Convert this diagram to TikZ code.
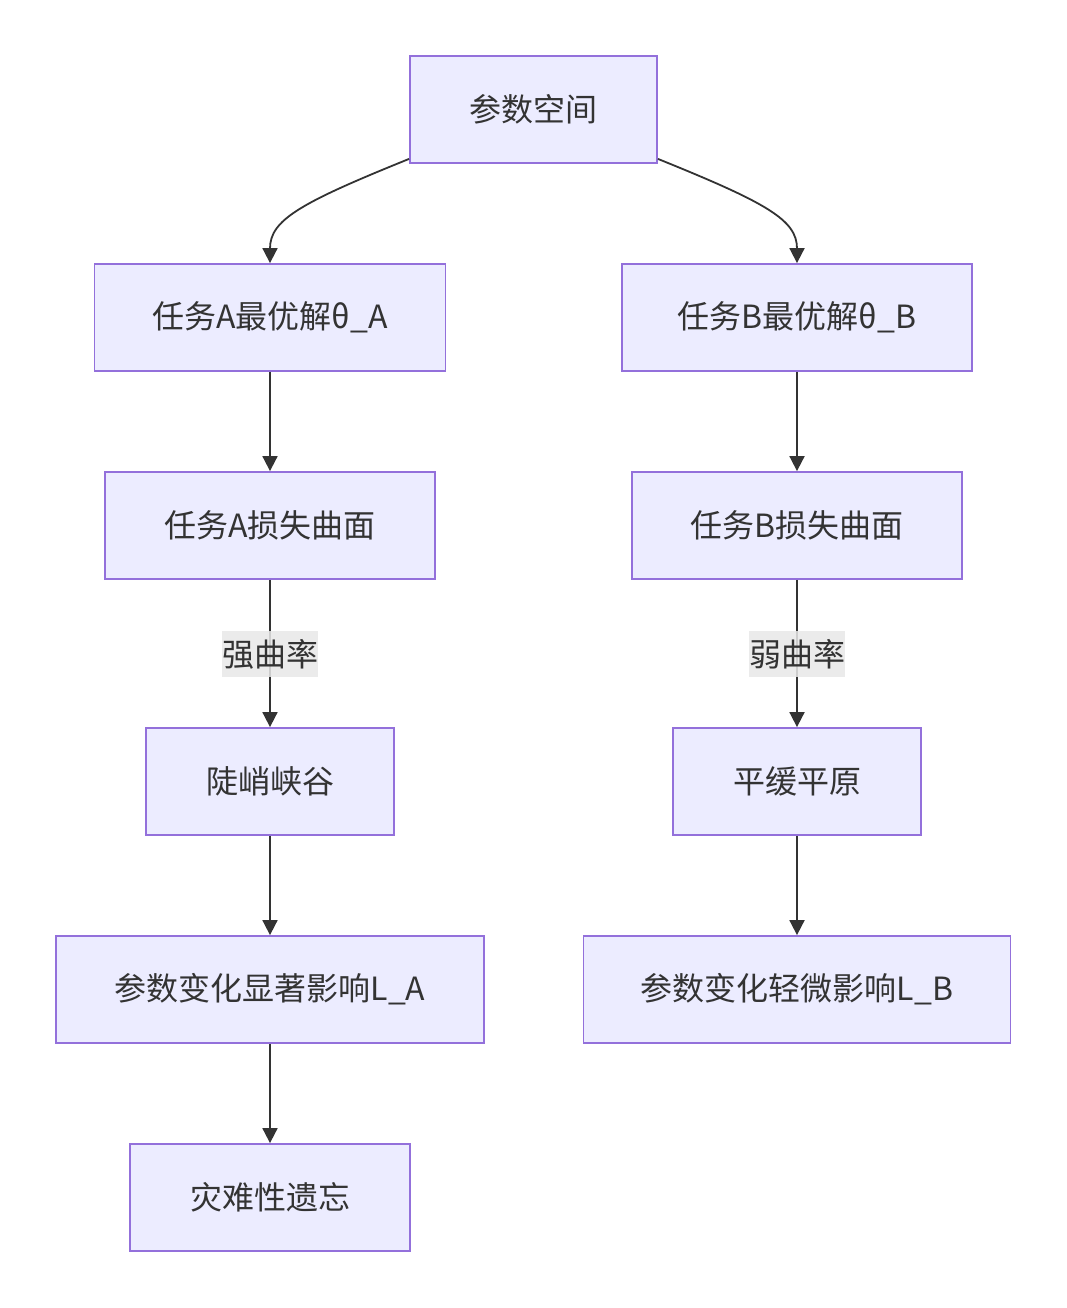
\documentclass[tikz,border=0pt]{standalone}
\usepackage{fontspec}
\setmainfont{Noto Sans CJK SC}
\usetikzlibrary{arrows.meta,positioning,calc}
\definecolor{nodefill}{HTML}{ECECFF}
\definecolor{nodeline}{HTML}{9370DB}
\definecolor{edgecol}{HTML}{333333}
\definecolor{lblfill}{HTML}{E8E8E8}
\begin{document}
\begin{tikzpicture}[x=1pt,y=-1pt,
  box/.style={draw=nodeline,fill=nodefill,line width=1.8pt,minimum height=107pt,inner sep=0pt,text=edgecol,font=\fontsize{32}{38}\selectfont},
  lbl/.style={fill=lblfill,fill opacity=0.85,text opacity=1,inner xsep=0pt,minimum width=96pt,minimum height=46pt,inner ysep=0pt,text=edgecol,font=\fontsize{32}{38}\selectfont},
  conn/.style={draw=edgecol,line width=1.8pt,-{Triangle[length=15pt,width=15pt]}}]
\useasboundingbox (0,0) rectangle (1066,1308);
\node[box,minimum width=247pt] (p) at (533.5,109.5) {参数空间};
\node[box,minimum width=351pt] (oa) at (270,317.5) {任务A最优解θ\_A};
\node[box,minimum width=350pt] (ob) at (797,317.5) {任务B最优解θ\_B};
\node[box,minimum width=330pt] (la) at (270,525.5) {任务A损失曲面};
\node[box,minimum width=330pt] (lb) at (797,525.5) {任务B损失曲面};
\node[box,minimum width=248pt] (va) at (270,781.5) {陡峭峡谷};
\node[box,minimum width=248pt] (vb) at (797,781.5) {平缓平原};
\node[box,minimum width=428pt] (ia) at (270,989.5) {参数变化显著影响L\_A};
\node[box,minimum width=427pt] (ib) at (797,989.5) {参数变化轻微影响L\_B};
\node[box,minimum width=280pt] (f) at (270,1197.5) {灾难性遗忘};
\coordinate (pl) at ($(p.south west)+(0,-5)$);
\coordinate (pr) at ($(p.south east)+(0,-5)$);
\draw[conn] (pl) .. controls (300,203) and (270,220) .. (oa.north);
\draw[conn] (pr) .. controls (767,203) and (797,220) .. (ob.north);
\draw[conn] (oa.south) -- (la.north);
\draw[conn] (ob.south) -- (lb.north);
\draw[conn] (la.south) -- (va.north);
\draw[conn] (lb.south) -- (vb.north);
\node[lbl] (ka) at (270,654) {强曲率};
\node[lbl] (kb) at (797,654) {弱曲率};
\draw[conn] (va.south) -- (ia.north);
\draw[conn] (vb.south) -- (ib.north);
\draw[conn] (ia.south) -- (f.north);
\end{tikzpicture}
\end{document}
